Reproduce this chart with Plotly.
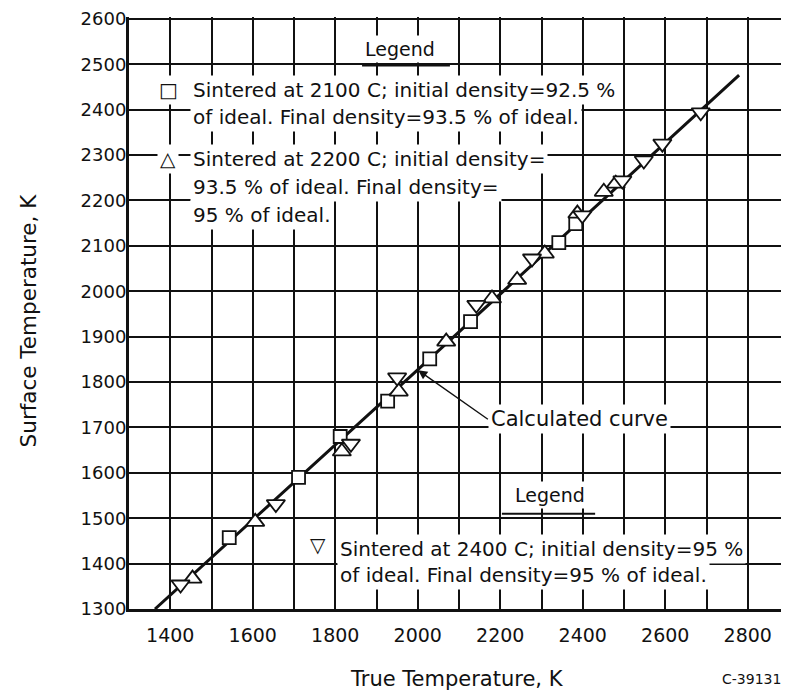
import plotly.graph_objects as go

# ---- data ----
sq_true = [1543, 1711, 1812, 1927, 2029, 2128, 2342, 2383]
sq_surf = [1457, 1590, 1680, 1758, 1851, 1933, 2107, 2149]

up_true = [1454, 1606, 1816, 1954, 2069, 2180, 2241, 2308, 2387, 2451, 2480]
up_surf = [1367, 1492, 1647, 1779, 1889, 1984, 2025, 2083, 2171, 2219, 2237]

dn_true = [1425, 1656, 1838, 1950, 2142, 2277, 2399, 2496, 2548, 2593, 2686]
dn_surf = [1354, 1531, 1664, 1810, 1970, 2072, 2167, 2244, 2288, 2325, 2394]

curve_true = [1363, 2001, 2779]
curve_surf = [1300, 1828, 2476]

x_tick_vals = [1400, 1600, 1800, 2000, 2200, 2400, 2600, 2800]
y_tick_vals = [1300, 1400, 1500, 1600, 1700, 1800, 1900, 2000, 2100, 2200, 2300, 2400, 2500, 2600]

FONT = "DejaVu Sans"
INK = "#111111"

fig = go.Figure()

fig.add_trace(go.Scatter(x=curve_true, y=curve_surf, mode="lines",
                         line=dict(color=INK, width=3), hoverinfo="skip"))

mk_line = dict(color=INK, width=1.8)
fig.add_trace(go.Scatter(x=sq_true, y=sq_surf, mode="markers",
                         marker=dict(symbol="square", size=13, color="white", line=mk_line)))
fig.add_trace(go.Scatter(x=up_true, y=up_surf, mode="markers",
                         marker=dict(symbol="triangle-up", size=16, color="white", line=mk_line)))
fig.add_trace(go.Scatter(x=dn_true, y=dn_surf, mode="markers",
                         marker=dict(symbol="triangle-down", size=16, color="white", line=mk_line)))

ann = []

def txt(x, y, s, size=20, xanchor="left", xref="x", yref="y", bg="white", angle=0, pad=2):
    ann.append(dict(x=x, y=y, xref=xref, yref=yref, text=s, showarrow=False,
                    xanchor=xanchor, yanchor="middle", textangle=angle,
                    bgcolor=bg, borderpad=pad,
                    font=dict(family=FONT, size=size, color=INK)))

# Legend 1 (upper left)
txt(1957, 2533, "Legend", size=19, xanchor="center")
txt(1395, 2443, "\u25a1", xanchor="center")
txt(1447, 2443, "Sintered at 2100 C; initial density=92.5 %")
txt(1447, 2384, "of ideal. Final density=93.5 % of ideal.")
txt(1395, 2291, "\u25b3", xanchor="center")
txt(1447, 2291, "Sintered at 2200 C; initial density=")
txt(1447, 2230, "93.5 % of ideal. Final density=")
txt(1447, 2168, "95 % of ideal.")

# Legend 2 (lower right)
txt(2321, 1551, "Legend", size=19, xanchor="center")
txt(1758, 1440, "\u25bd", xanchor="center")
txt(1805, 1433, "Sintered at 2400 C; initial density=95 %")
txt(1805, 1374, "of ideal. Final density=95 % of ideal.")

# Calculated curve label with arrow
ann.append(dict(x=2001, y=1826, xref="x", yref="y",
                ax=2170, ay=1718, axref="x", ayref="y",
                text="Calculated curve", showarrow=True,
                arrowhead=2, arrowsize=1.3, arrowwidth=1.4, arrowcolor=INK,
                xanchor="left", yanchor="middle", bgcolor="white", borderpad=2,
                font=dict(family=FONT, size=21, color=INK)))

# axis titles and figure id
txt(-0.152, 0.487, "Surface Temperature, K", size=21.5, xanchor="center",
    xref="paper", yref="paper", bg="rgba(0,0,0,0)", angle=-90)
txt(0.497, -0.119, "True Temperature, K", size=21, xanchor="center",
    xref="paper", yref="paper", bg="rgba(0,0,0,0)")
txt(0.992, -0.118, "C-39131", size=14, xanchor="right",
    xref="paper", yref="paper", bg="rgba(0,0,0,0)")

shapes = [
    dict(type="line", xref="x", yref="y", x0=1865, x1=2078, y0=2497, y1=2497,
         line=dict(color=INK, width=2)),
    dict(type="line", xref="x", yref="y", x0=2204, x1=2430, y0=1510, y1=1510,
         line=dict(color=INK, width=2)),
]

# the page body has an 8px default margin, so the figure is 8px smaller
fig.update_layout(
    width=781, height=692,
    margin=dict(l=121, r=0, t=7, b=91),
    paper_bgcolor="white", plot_bgcolor="white",
    showlegend=False,
    annotations=ann, shapes=shapes,
    font=dict(family=FONT, size=18, color=INK),
    xaxis=dict(range=[1300, 2900], tickvals=x_tick_vals,
               ticktext=[str(v) for v in x_tick_vals],
               showgrid=True, gridcolor=INK, gridwidth=1.6,
               minor=dict(dtick=100, tick0=1300, showgrid=True, gridcolor=INK, gridwidth=1.6),
               showline=True, linecolor=INK, linewidth=3,
               ticks="outside", ticklen=7, tickcolor="rgba(0,0,0,0)",
               ticklabeloverflow="allow",
               zeroline=False, tickfont=dict(family=FONT, size=19, color=INK)),
    yaxis=dict(range=[1300, 2604], tickvals=y_tick_vals,
               ticktext=[str(v) for v in y_tick_vals],
               showgrid=True, gridcolor=INK, gridwidth=1.6,
               showline=True, linecolor=INK, linewidth=3,
               ticks="", zeroline=False, ticklabelstandoff=-4,
               ticklabeloverflow="allow",
               tickfont=dict(family=FONT, size=18, color=INK)),
)

fig.write_html("out.html")
